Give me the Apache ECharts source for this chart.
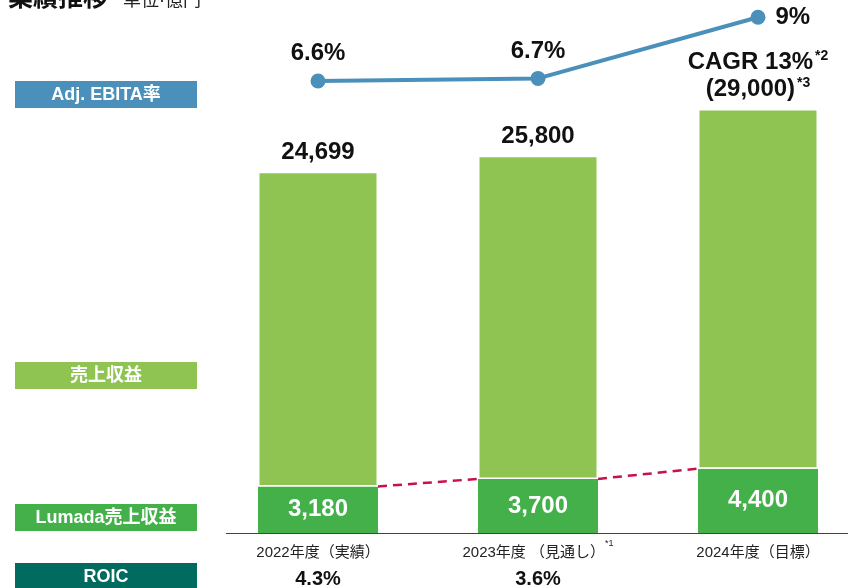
<!DOCTYPE html>
<html>
<head>
<meta charset="utf-8">
<script src="https://cdn.jsdelivr.net/npm/echarts@6/dist/echarts.min.js"></script>
<style>
  html, body { margin: 0; padding: 0; background: #fff; }
  #chart { width: 848px; height: 588px; }
</style>
</head>
<body>
<div id="chart"></div>
<script>
// 業績推移 data
const categories = ['2022年度（実績）', '2023年度 （見通し）', '2024年度（目標）'];
const catNotes = ['', '*1', ''];
const revenue = [24699, 25800, 29000];
const lumada = [3180, 3700, 4400];
const ebitaRate = [6.6, 6.7, 9];
const roic = [4.3, 3.6, null];

const FONT = '"Liberation Sans", "Noto Sans CJK JP", sans-serif';
const BAR_W = 120;

const chart = echarts.init(document.getElementById('chart'));

// 左側の凡例ボックス
function legendBox(y, text, color) {
  return {
    type: 'group',
    left: 15,
    top: y,
    children: [
      { type: 'rect', shape: { x: 0, y: 0, width: 182, height: 27 }, style: { fill: color } },
      {
        type: 'text', x: 91, y: 14,
        style: {
          text, fill: '#fff', font: 'bold 18px ' + FONT,
          textAlign: 'center', textVerticalAlign: 'middle',
        },
      },
    ],
  };
}

const option = {
  animation: false,
  textStyle: { fontFamily: FONT },
  grid: [
    { left: 208, width: 660, top: 65, bottom: 55, outerBoundsMode: 'none' },
    { left: 208, width: 660, top: 4, height: 93, outerBoundsMode: 'none' },
  ],
  xAxis: [
    {
      type: 'category', gridIndex: 0, data: categories,
      axisLine: { show: false },
      axisTick: { show: false },
      axisLabel: {
        interval: 0,
        margin: 6,
        formatter: (v, i) => {
          const r = roic[i] == null ? '' : roic[i].toFixed(1) + '%';
          return '{c|' + v + '}' + (catNotes[i] ? '{s|' + catNotes[i] + '}' : '') + '\n{r|' + r + '}';
        },
        rich: {
          c: { fontSize: 15, color: '#222', fontFamily: FONT, lineHeight: 27 },
          s: { fontSize: 9, color: '#222', verticalAlign: 'top', lineHeight: 27, padding: [0, 0, 8, 0] },
          r: { fontSize: 20, fontWeight: 'bold', color: '#111', lineHeight: 27 },
        },
      },
    },
    {
      type: 'category', gridIndex: 1, data: categories,
      axisLine: { show: false }, axisTick: { show: false }, axisLabel: { show: false },
    },
  ],
  yAxis: [
    { type: 'value', gridIndex: 0, min: 0, max: 32000, show: false, splitLine: { show: false } },
    { type: 'value', gridIndex: 1, min: 6, max: 9.5, show: false, splitLine: { show: false } },
  ],
  series: [
    {
      // Lumada売上収益の点線（棒の端をつなぐ）
      type: 'custom',
      xAxisIndex: 0, yAxisIndex: 0,
      z: 1,
      data: lumada.map((v, i) => [i, v]),
      renderItem: (params, api) => {
        const i = api.value(0);
        if (i === 0) return null;
        const p0 = api.coord([i - 1, lumada[i - 1]]);
        const p1 = api.coord([i, api.value(1)]);
        return {
          type: 'line',
          shape: { x1: p0[0] + BAR_W / 2, y1: p0[1], x2: p1[0] - BAR_W / 2, y2: p1[1] },
          style: { stroke: '#c8104a', lineWidth: 2.5, lineDash: [9, 6] },
        };
      },
    },
    {
      name: 'Lumada売上収益',
      type: 'bar', stack: 'rev', barWidth: BAR_W,
      xAxisIndex: 0, yAxisIndex: 0, z: 2,
      data: lumada,
      itemStyle: { color: '#43b04a' },
      label: {
        show: true, position: 'inside', color: '#fff',
        fontSize: 24, fontWeight: 'bold', fontFamily: FONT,
        formatter: p => p.value.toLocaleString('en-US'),
      },
    },
    {
      name: '売上収益',
      type: 'bar', stack: 'rev', barWidth: BAR_W,
      xAxisIndex: 0, yAxisIndex: 0, z: 3,
      data: revenue.map((v, i) => v - lumada[i]),
      itemStyle: { color: '#8fc453', borderColor: '#fff', borderWidth: 1.5 },
      label: {
        show: true, position: 'top', distance: 6, color: '#111',
        fontFamily: FONT,
        formatter: p => {
          const total = revenue[p.dataIndex].toLocaleString('en-US');
          if (p.dataIndex === revenue.length - 1) {
            return '{t|CAGR 13%}{s|*2}\n{t|(' + total + ')}{s|*3}';
          }
          return '{t|' + total + '}';
        },
        rich: {
          t: { fontSize: 24, fontWeight: 'bold', color: '#111', lineHeight: 27 },
          s: { fontSize: 14, fontWeight: 'bold', color: '#111', verticalAlign: 'top', lineHeight: 27, padding: [0, 0, 10, 2] },
        },
      },
    },
    {
      name: 'Adj. EBITA率',
      type: 'line',
      xAxisIndex: 1, yAxisIndex: 1,
      data: ebitaRate.map((v, i) => ({
        value: v,
        label: i === ebitaRate.length - 1 ? { position: 'right', distance: 10 } : undefined,
      })),
      symbol: 'circle', symbolSize: 15,
      lineStyle: { color: '#4a90ba', width: 4 },
      itemStyle: { color: '#4a90ba' },
      label: {
        show: true, fontSize: 24, fontWeight: 'bold', color: '#111', fontFamily: FONT,
        formatter: p => p.value + '%',
        position: 'top', distance: 8,
      },
    },
  ],
  graphic: [
    // x軸線
    { type: 'line', shape: { x1: 226, y1: 533.5, x2: 848, y2: 533.5 }, style: { stroke: '#444', lineWidth: 1 }, z: 10 },
    {
      type: 'text', left: 8, top: -13,
      style: { text: '業績推移', font: 'bold 25px ' + FONT, fill: '#111' },
    },
    {
      type: 'text', left: 123, top: -8,
      style: { text: '単位·億円', font: '18px ' + FONT, fill: '#222' },
    },
    legendBox(81, 'Adj. EBITA率', '#4a90ba'),
    legendBox(362, '売上収益', '#8fc453'),
    legendBox(504, 'Lumada売上収益', '#43b04a'),
    legendBox(563, 'ROIC', '#006b5e'),
  ],
};

chart.setOption(option);
</script>
</body>
</html>
